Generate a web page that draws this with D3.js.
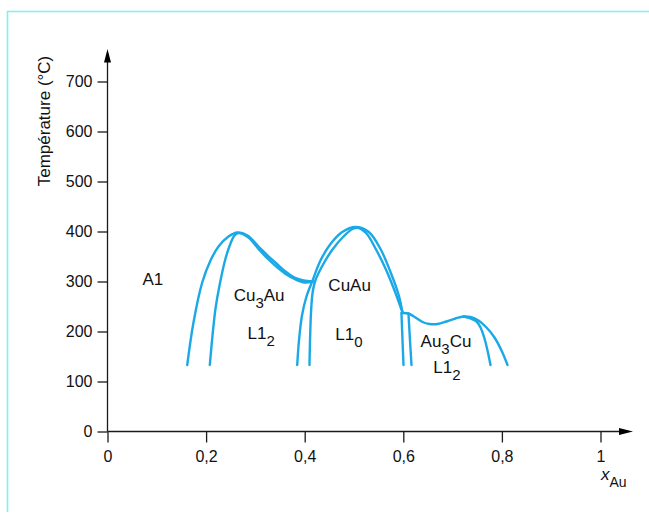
<!DOCTYPE html>
<html>
<head>
<meta charset="utf-8">
<script src="https://cdn.jsdelivr.net/npm/d3@7"></script>
<style>
  html, body { margin: 0; padding: 0; background: #fff; }
  svg { display: block; font-family: "Liberation Sans", Arial, sans-serif; }
</style>
</head>
<body>
<svg id="chart" width="649" height="515"></svg>
<script>
// ---- data (x = mole fraction Au, T = temperature in °C) ----
const xTicks = [0, 0.2, 0.4, 0.6, 0.8, 1];
const xTickLabels = ["0", "0,2", "0,4", "0,6", "0,8", "1"];
const yTicks = [0, 100, 200, 300, 400, 500, 600, 700];

const cu3auOuter = [[0.1617,133],[0.1744,218],[0.1921,298],[0.2089,342],[0.2252,370],[0.2454,390],[0.2637,398],[0.2840,392],[0.3063,370],[0.3266,350],[0.3428,336],[0.3611,320],[0.3793,308],[0.3976,302],[0.4158,300]];
const cu3auInner = [[0.2075,133],[0.2130,192],[0.2191,246],[0.2272,292],[0.2394,346],[0.2495,376],[0.2576,392],[0.2657,397],[0.2860,388],[0.3063,365],[0.3266,344],[0.3448,328],[0.3631,314],[0.3813,304],[0.3996,298],[0.4158,300]];
const cuauOuter = [[0.3848,133],[0.3884,182],[0.3945,232],[0.4036,270],[0.4152,300],[0.4320,342],[0.4523,375],[0.4761,399],[0.5030,409],[0.5300,399],[0.5538,365],[0.5740,319],[0.5909,272],[0.5984,238]];
const cuauInner = [[0.4097,133],[0.4108,182],[0.4128,238],[0.4158,276],[0.4209,300],[0.4361,332],[0.4564,364],[0.4787,390],[0.4970,405],[0.5091,407],[0.5254,396],[0.5436,366],[0.5639,326],[0.5822,282],[0.5984,238]];
const twoPhaseLeft = [[0.5963,236],[0.5984,182],[0.6004,133]];
const twoPhaseRight = [[0.6105,236],[0.6136,182],[0.6166,133]];
const au3cuOuter = [[0.5963,237],[0.6105,236],[0.6247,228],[0.6389,219],[0.6531,215],[0.6694,215],[0.6876,220],[0.7059,226],[0.7221,230],[0.7363,229],[0.7525,222],[0.7688,208],[0.7850,188],[0.7992,162],[0.8114,133]];
const au3cuInner = [[0.7221,230],[0.7363,226],[0.7485,220],[0.7566,208],[0.7647,186],[0.7708,162],[0.7769,133]];

const curves = [cu3auOuter, cu3auInner, cuauOuter, cuauInner, twoPhaseLeft, twoPhaseRight, au3cuOuter, au3cuInner];

// region labels: [main, subscript-after-index, rest], anchor x (Au fraction), T
const labelTexts = [
  {parts: [["A1", false]], x: 0.071, T: 294},
  {parts: [["Cu", false], ["3", true], ["Au", false]], x: 0.256, T: 262},
  {parts: [["L1", false], ["2", true]], x: 0.284, T: 186},
  {parts: [["CuAu", false]], x: 0.448, T: 282},
  {parts: [["L1", false], ["0", true]], x: 0.462, T: 184},
  {parts: [["Au", false], ["3", true], ["Cu", false]], x: 0.635, T: 170},
  {parts: [["L1", false], ["2", true]], x: 0.661, T: 118}
];

// ---- drawing ----
const svg = d3.select("#chart");
const x = d3.scaleLinear().domain([0, 1]).range([107.5, 600.5]);
const y = d3.scaleLinear().domain([0, 700]).range([431.5, 81.5]);

// frame
svg.append("path")
  .attr("d", "M7.5,512 L7.5,11.5 L649,11.5")
  .attr("fill", "none")
  .attr("stroke", "#7ef2f2")
  .attr("stroke-width", 1.6);

const axisColor = "#1a1a1a";

// y axis
const yAxis = svg.append("g")
  .attr("transform", `translate(${x(0)},0)`)
  .call(d3.axisLeft(y).tickValues(yTicks).tickSize(10).tickPadding(5).tickFormat(d3.format("d")));
yAxis.select(".domain").remove();
yAxis.selectAll("line").attr("stroke", axisColor).attr("stroke-width", 1.3);
yAxis.selectAll("text").attr("font-size", 16).attr("fill", "#111").attr("font-family", "Liberation Sans, Arial, sans-serif");

// x axis
const xAxis = svg.append("g")
  .attr("transform", `translate(0,${y(0)})`)
  .call(d3.axisBottom(x).tickValues(xTicks).tickSize(11).tickPadding(8).tickFormat((d, i) => xTickLabels[i]));
xAxis.select(".domain").remove();
xAxis.selectAll("line").attr("stroke", axisColor).attr("stroke-width", 1.3);
xAxis.selectAll("text").attr("font-size", 16).attr("fill", "#111").attr("font-family", "Liberation Sans, Arial, sans-serif");

// axis lines with arrows
svg.append("line").attr("x1", x(0)).attr("y1", y(0)).attr("x2", x(0)).attr("y2", 58)
  .attr("stroke", axisColor).attr("stroke-width", 1.3);
svg.append("path").attr("d", `M${x(0)},49 L${x(0)-3.5},62.5 L${x(0)+3.5},62.5 Z`).attr("fill", "#000");
svg.append("line").attr("x1", x(0)).attr("y1", y(0)).attr("x2", 624).attr("y2", y(0))
  .attr("stroke", axisColor).attr("stroke-width", 1.3);
svg.append("path").attr("d", `M633,${y(0)} L619,${y(0)-3.5} L619,${y(0)+3.5} Z`).attr("fill", "#000");

// y title
svg.append("text")
  .attr("transform", "translate(50,121) rotate(-90)")
  .attr("text-anchor", "middle")
  .attr("font-size", 17)
  .attr("fill", "#111")
  .text("Température (°C)");

// x title
const xt = svg.append("text").attr("x", 601).attr("y", 480).attr("fill", "#111");
xt.append("tspan").attr("font-style", "italic").attr("font-size", 17).text("x");
xt.append("tspan").attr("font-size", 14).attr("dy", 7).text("Au");

// curves
const line = d3.line().x(d => x(d[0])).y(d => y(d[1])).curve(d3.curveCatmullRom.alpha(0.5));
svg.append("g").selectAll("path").data(curves).join("path")
  .attr("d", line)
  .attr("fill", "none")
  .attr("stroke", "#1aa9e6")
  .attr("stroke-width", 2.4)
  .attr("stroke-linecap", "round")
  .attr("stroke-linejoin", "round");

// region labels
labelTexts.forEach(lb => {
  const t = svg.append("text").attr("x", x(lb.x)).attr("y", y(lb.T)).attr("font-size", 17).attr("fill", "#111");
  let shifted = false;
  lb.parts.forEach(([txt, sub]) => {
    const ts = t.append("tspan").text(txt);
    if (sub) { ts.attr("dy", 7).attr("font-size", 15); shifted = true; }
    else if (shifted) { ts.attr("dy", -7); shifted = false; }
  });
});
</script>
</body>
</html>
